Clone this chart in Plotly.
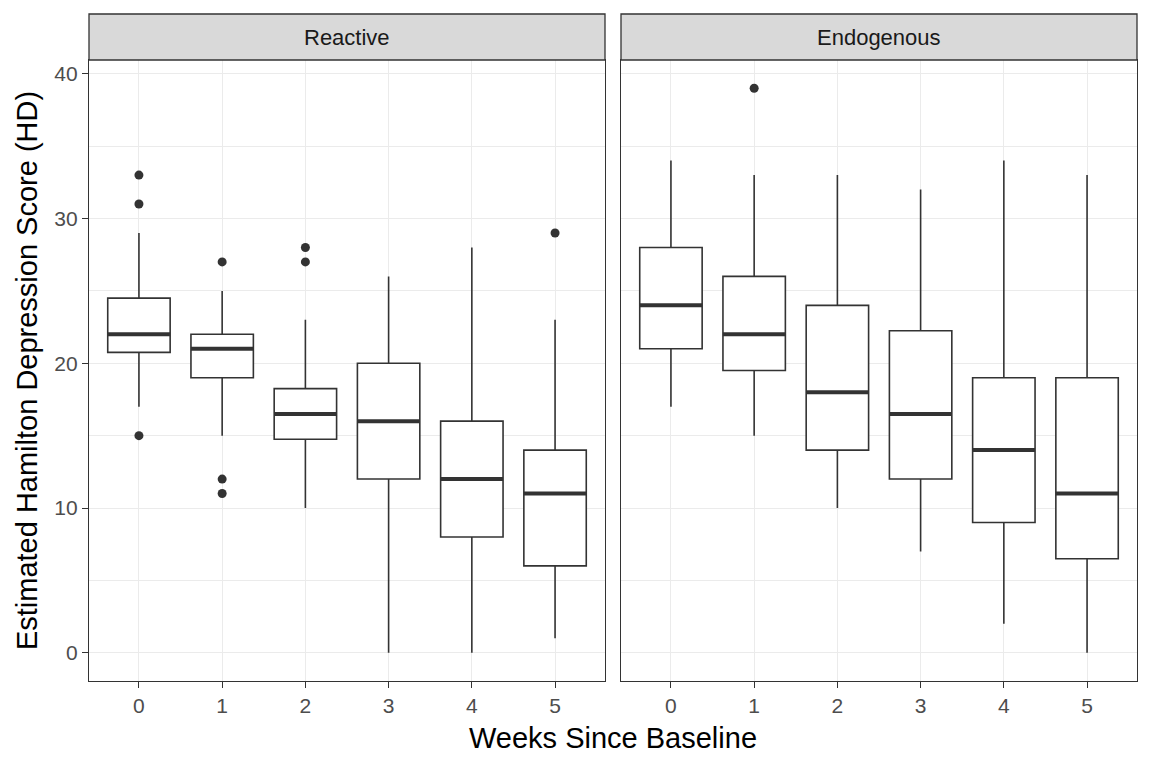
import plotly.graph_objects as go

weeks = [0, 1, 2, 3, 4, 5]
week_labels = ["0", "1", "2", "3", "4", "5"]
panels = ["Reactive", "Endogenous"]

# Reactive
r_low = [17, 15, 10, 0, 0, 1]
r_q1 = [20.75, 19, 14.75, 12, 8, 6]
r_med = [22, 21, 16.5, 16, 12, 11]
r_q3 = [24.5, 22, 18.25, 20, 16, 14]
r_high = [29, 25, 23, 26, 28, 23]
r_out_x = [0, 0, 0, 1, 1, 1, 2, 2, 5]
r_out_y = [33, 31, 15, 27, 12, 11, 28, 27, 29]

# Endogenous
e_low = [17, 15, 10, 7, 2, 0]
e_q1 = [21, 19.5, 14, 12, 9, 6.5]
e_med = [24, 22, 18, 16.5, 14, 11]
e_q3 = [28, 26, 24, 22.25, 19, 19]
e_high = [34, 33, 33, 32, 34, 33]
e_out_x = [1]
e_out_y = [39]

DARK = "#333333"
FONT = "Liberation Sans, Arial, sans-serif"
box_w = 0.75

fig = go.Figure()

def add_panel(low, q1, med, q3, high, ox, oy, xa, ya):
    fig.add_trace(go.Box(
        x=weeks, q1=q1, median=med, q3=q3, lowerfence=low, upperfence=high,
        width=box_w, fillcolor="white", line=dict(color=DARK, width=1.6),
        boxpoints=False, whiskerwidth=0, showlegend=False, hoverinfo="skip",
        xaxis=xa, yaxis=ya))
    mx, my = [], []
    for w, m in zip(weeks, med):
        mx += [w - box_w / 2, w + box_w / 2, None]
        my += [m, m, None]
    fig.add_trace(go.Scatter(x=mx, y=my, mode="lines",
                             line=dict(color=DARK, width=4),
                             showlegend=False, hoverinfo="skip",
                             xaxis=xa, yaxis=ya))
    fig.add_trace(go.Scatter(x=ox, y=oy, mode="markers",
                             marker=dict(color=DARK, size=9),
                             showlegend=False, hoverinfo="skip",
                             xaxis=xa, yaxis=ya))

add_panel(r_low, r_q1, r_med, r_q3, r_high, r_out_x, r_out_y, "x", "y")
add_panel(e_low, e_q1, e_med, e_q3, e_high, e_out_x, e_out_y, "x2", "y2")

W, H = 1152, 768
# page body adds ~8px offset; compensate
ml, mt = 81, 52
pw, ph = 1048, 621
mr = W - ml - pw
mb = H - mt - ph
d1 = 516 / pw
d2 = 532 / pw

tickfont = dict(family=FONT, size=21, color="#4D4D4D")
common_x = dict(range=[-0.6, 5.6], tickvals=weeks, ticktext=week_labels,
                showgrid=True, gridcolor="#EBEBEB", gridwidth=1.4,
                zeroline=False, showline=True, mirror=True, linecolor=DARK,
                linewidth=1.3, ticks="outside", ticklen=6, tickwidth=1.3,
                tickcolor=DARK, tickfont=tickfont)
common_y = dict(range=[-1.95, 40.95], tickvals=[0, 10, 20, 30, 40],
                showgrid=True, gridcolor="#EBEBEB", gridwidth=1.4,
                minor=dict(tickvals=[5, 15, 25, 35], showgrid=True,
                           gridcolor="#EBEBEB", gridwidth=0.8, ticks=""),
                zeroline=False, showline=True, mirror=True, linecolor=DARK,
                linewidth=1.3, tickwidth=1.3,
                tickcolor=DARK, tickfont=tickfont)

fig.update_layout(
    width=W, height=H,
    margin=dict(l=ml, r=mr, t=mt, b=mb),
    paper_bgcolor="white", plot_bgcolor="white",
    xaxis=dict(domain=[0, d1], **common_x),
    xaxis2=dict(domain=[d2, 1], **common_x),
    yaxis=dict(domain=[0, 1], anchor="x", ticks="outside", ticklen=6,
               title=dict(text="Estimated Hamilton Depression Score (HD)",
                          font=dict(family=FONT, size=29, color="black"),
                          standoff=8),
               **common_y),
    yaxis2=dict(domain=[0, 1], anchor="x2", matches="y", showticklabels=False,
                ticks="", **common_y),
    showlegend=False,
)

strip_h = 46 / ph
for name, (x0, x1) in zip(panels, [(0, d1), (d2, 1)]):
    fig.add_shape(type="rect", xref="paper", yref="paper",
                  x0=x0, x1=x1, y0=1, y1=1 + strip_h,
                  fillcolor="#D9D9D9", line=dict(color=DARK, width=1.3),
                  layer="above")
    fig.add_annotation(text=name, xref="paper", yref="paper",
                       x=(x0 + x1) / 2, y=1 + strip_h / 2,
                       xanchor="center", yanchor="middle", showarrow=False,
                       font=dict(family=FONT, size=22, color="#1A1A1A"))

fig.add_annotation(text="Weeks Since Baseline", xref="paper", yref="paper",
                   x=0.5, y=-39 / ph, xanchor="center", yanchor="top",
                   showarrow=False,
                   font=dict(family=FONT, size=29, color="black"))

fig.write_html("out.html")
